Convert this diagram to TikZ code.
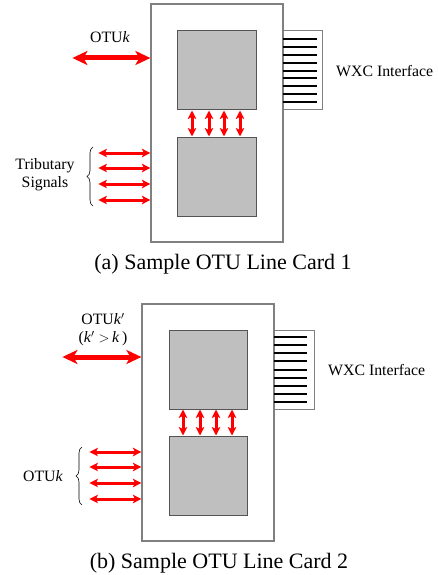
\documentclass[tikz,border=0pt]{standalone}
\usepackage{fontspec}
\setmainfont{Liberation Serif}
\usetikzlibrary{arrows.meta,decorations.pathreplacing}

\definecolor{cardgray}{gray}{0.5}
\definecolor{chipedge}{gray}{0.33}
\definecolor{chipfill}{gray}{0.75}

\begin{document}
\begin{tikzpicture}[
    x=1pt, y=-1pt,
    card/.style={draw=cardgray, line width=1.2pt, fill=white, minimum width=132pt, minimum height=238pt, inner sep=0pt},
    chip/.style={draw=chipedge, line width=1pt, fill=chipfill, minimum width=79pt, minimum height=79pt, inner sep=0pt},
    port/.style={draw=cardgray, line width=1pt, fill=white, minimum width=39pt, minimum height=79pt, inner sep=0pt},
    txt/.style={font=\fontsize{15.8}{18}\selectfont, align=center, inner sep=0pt},
    caption/.style={font=\fontsize{22}{24}\selectfont, inner sep=0pt},
    bigarrow/.style={red, line width=5pt, {Stealth[length=15pt,width=14pt,inset=4pt]}-{Stealth[length=15pt,width=14pt,inset=4pt]}},
    sigarrow/.style={red, line width=3pt, {Stealth[length=8.5pt,width=8.5pt,inset=2pt]}-{Stealth[length=8.5pt,width=8.5pt,inset=2pt]}},
    wire/.style={black, line width=2pt},
    brace/.style={decorate, decoration={brace, amplitude=6pt}, line width=0.6pt}
]
\useasboundingbox (0,0) rectangle (438,575);

% (a) first line card
\node[card] (cardA) at (217,123) {};
\node[port] (portA) at (302.5,70.5) {};
\node[chip] (upA) at (216.5,70.5) {};
\node[chip] (loA) at (216.5,176.5) {};
\foreach \i in {0,...,8}
  \draw[wire] (portA.west |- 0,39+7.9*\i) -- ++(34,0);
\foreach \x in {192,209,224,240}
  \draw[sigarrow] (upA.south -| \x,0) -- (loA.north -| \x,0);

\draw[bigarrow] (cardA.west |- 0,58) -- ++(-78,0);
\foreach \y in {153,168,184,200}
  \draw[sigarrow] (cardA.west |- 0,\y) -- ++(-52,0);
\draw[brace] (93,206) -- (93,147);

\node[txt] (otuA) at (110,37) {OTU\textit{k}};
\node[txt] (tribA) at (45,175) {Tributary\\Signals};
\node[txt, anchor=west] (wxcA) at (336,71) {WXC Interface};
\node[caption] (capA) at (223,264) {(a) Sample OTU Line Card 1};

% (b) second line card
\node[card, minimum height=237pt] (cardB) at (208,422.5) {};
\node[port, minimum width=40pt] (portB) at (294,369.5) {};
\node[chip, minimum width=78pt] (upB) at (208,369.5) {};
\node[chip, minimum width=78pt] (loB) at (208,475.5) {};
\foreach \i in {0,...,8}
  \draw[wire] (portB.west |- 0,337.3+8.05*\i) -- ++(33,0);
\foreach \x in {183,200,216,232}
  \draw[sigarrow] (upB.south -| \x,0) -- (loB.north -| \x,0);

\draw[bigarrow] (cardB.west |- 0,357) -- ++(-79,0);
\foreach \y in {452,467,483,499}
  \draw[sigarrow] (cardB.west |- 0,\y) -- ++(-52,0);
\draw[brace] (82,505) -- (82,447);

\node[txt] (otuB) at (103,330) {OTU\textit{k}$'$\\(\textit{k}$'>$\,\textit{k}\,)};
\node[txt] (lowB) at (43,476) {OTU\textit{k}};
\node[txt, anchor=west] (wxcB) at (328,370) {WXC Interface};
\node[caption] (capB) at (219,563) {(b) Sample OTU Line Card 2};

\end{tikzpicture}
\end{document}
